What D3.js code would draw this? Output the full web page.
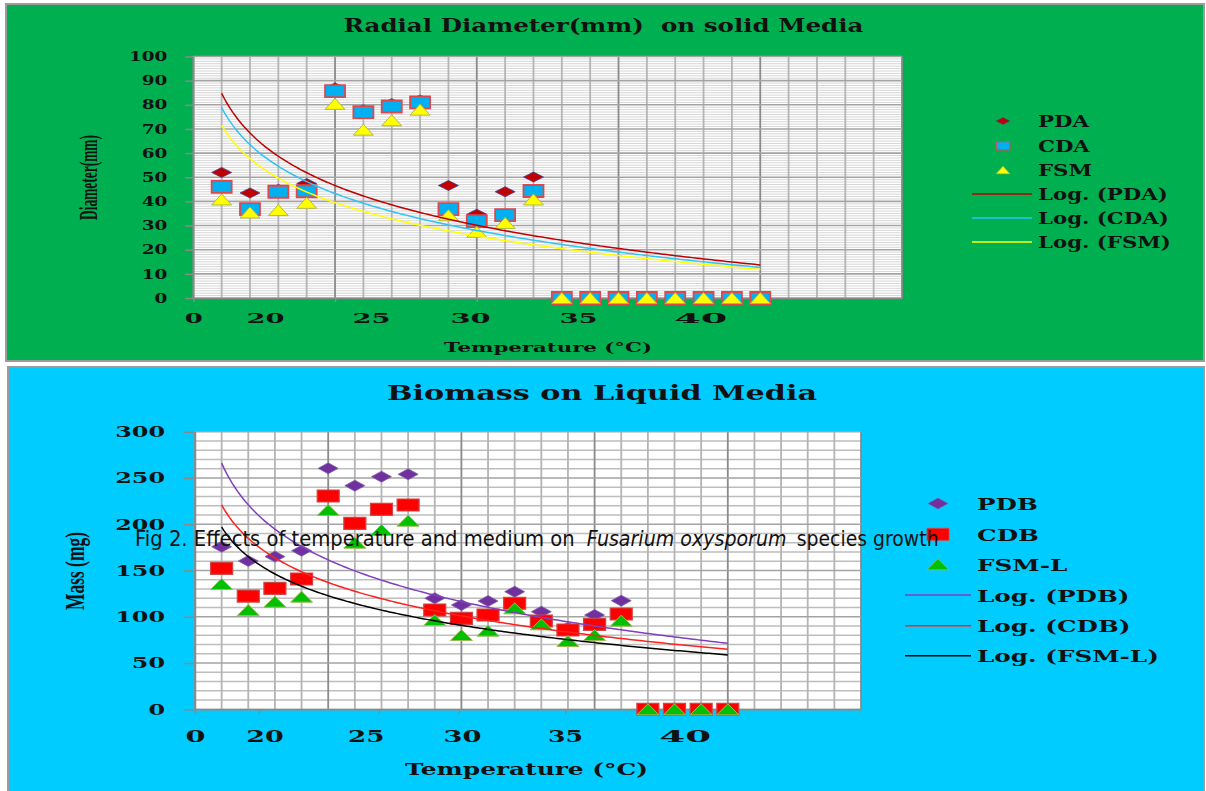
<!DOCTYPE html>
<html>
<head>
<meta charset="utf-8">
<script src="https://cdn.jsdelivr.net/npm/d3@7"></script>
<style>
  body { margin: 0; background: #fff; }
  svg { display: block; }
  text { white-space: pre; }
</style>
</head>
<body>
<svg id="fig" width="1206" height="791"></svg>
<script>
// reading index used by the spreadsheet (1..20)
const idx = d3.range(1, 21);

// solid media, radial diameter (mm)
const pda = [52, 43.5, 45, 47.4, 87, 78, 80.5, 82, 46.6, 34.7, 44, 50.1, 0, 0, 0, 0, 0, 0, 0, 0];
const cda = [46, 36.8, 44, 44.2, 85.7, 77, 79.3, 81, 36.8, 31.8, 34.3, 44.3, 0, 0, 0, 0, 0, 0, 0, 0];
const fsm = [40.8, 35.4, 36.4, 39.4, 80.4, 69.7, 73.6, 78, 34.3, 27.4, 31.1, 40.8, 0, 0, 0, 0, 0, 0, 0, 0];

// liquid media, biomass (mg)
const pdb = [175.7, 160.3, 165, 171.4, 260.4, 241.7, 251.4, 254, 120, 112.7, 117, 127.1, 105.5, 88, 101.9, 117.4, 0, 0, 0, 0];
const cdb = [152.4, 122.4, 130.7, 140.8, 230.5, 201, 216.1, 220.8, 107.3, 98.3, 101.9, 114.6, 95.4, 85.7, 91.8, 103, 0, 0, 0, 0];
const fsml = [135.4, 107.3, 116.3, 121.7, 215.4, 180, 193.8, 203.8, 96.5, 80.3, 85, 109.1, 91.8, 73.8, 80.3, 95.8, 0, 0, 0, 0];

// the temperature labels sit at odd places along the index axis
const tempLabels = ['0', '20', '25', '30', '35', '40'];
const topLabelAt = [0, 2.53, 6.27, 9.76, 13.57, 17.88];
const botLabelAt = [0, 2.61, 6.41, 10.02, 13.89, 18.38];
const topTickAt = [0, 5, 10, 15, 20];
const botTickAt = [0, 2.4, 6.9, 9.9, 13.9, 20];

const svg = d3.select('#fig');

// Excel style logarithmic trendline: y = a*ln(x) + b, least squares
function logFit(ys) {
  const xs = idx.map(Math.log);
  const mx = d3.mean(xs), my = d3.mean(ys);
  const a = d3.sum(xs, (v, i) => (v - mx) * (ys[i] - my)) / d3.sum(xs, v => (v - mx) * (v - mx));
  return { a: a, b: my - a * mx };
}

function markerPath(shape, w, h) {
  if (shape === 'diamond') return `M0,${-h/2}L${w/2},0L0,${h/2}L${-w/2},0Z`;
  if (shape === 'triangle') return `M0,${-h/2}L${w/2},${h/2}L${-w/2},${h/2}Z`;
  return `M${-w/2},${-h/2}h${w}v${h}h${-w}Z`;
}

function drawPanel(c) {
  const g = svg.append('g');
  g.append('rect')
    .attr('x', c.box[0]).attr('y', c.box[1]).attr('width', c.box[2]).attr('height', c.box[3])
    .attr('fill', c.bg).attr('stroke', '#9c9c9c').attr('stroke-width', 2);

  const x = d3.scaleLinear().domain([0, 25]).range([c.plot.l, c.plot.r]);
  const y = d3.scaleLinear().domain([0, c.yMax]).range([c.plot.b, c.plot.t]);

  g.append('rect')
    .attr('x', c.plot.l).attr('y', c.plot.t)
    .attr('width', c.plot.r - c.plot.l).attr('height', c.plot.b - c.plot.t)
    .attr('fill', '#fff');

  // minor horizontal lines
  g.append('g').selectAll('line')
    .data(d3.range(0, c.yMax + 0.001, c.minor).filter(v => v % c.major !== 0))
    .join('line')
    .attr('x1', c.plot.l).attr('x2', c.plot.r)
    .attr('y1', d => y(d)).attr('y2', d => y(d))
    .attr('stroke', c.minorColor).attr('stroke-width', c.minorWidth);

  // vertical lines, darker every 5
  g.append('g').selectAll('line')
    .data(d3.range(0, 26))
    .join('line')
    .attr('x1', d => x(d)).attr('x2', d => x(d))
    .attr('y1', c.plot.t).attr('y2', c.plot.b)
    .attr('stroke', d => d % 5 === 0 ? '#8a8a8a' : '#b4b4b4')
    .attr('stroke-width', 1.8);

  // major horizontal lines
  g.append('g').selectAll('line')
    .data(d3.range(0, c.yMax + 0.001, c.major))
    .join('line')
    .attr('x1', c.plot.l).attr('x2', c.plot.r)
    .attr('y1', d => y(d)).attr('y2', d => y(d))
    .attr('stroke', '#a3a3a3').attr('stroke-width', 1.6);

  // y axis
  const ya = g.append('g').attr('transform', `translate(${c.plot.l},0)`)
    .call(d3.axisLeft(y).tickValues(d3.range(0, c.yMax + 0.001, c.major))
      .tickSize(c.yTick).tickSizeOuter(0).tickPadding(c.yPad));
  ya.select('.domain').attr('stroke', '#8a8a8a').attr('stroke-width', 1.5);
  ya.selectAll('.tick line').attr('stroke', '#8a8a8a').attr('stroke-width', 1.5);
  ya.selectAll('.tick text')
    .attr('font-family', 'DejaVu Serif').attr('font-weight', 'bold')
    .attr('font-size', c.yFont).attr('fill', '#111')
    .attr('textLength', d => String(d).length * c.yDigitW)
    .attr('lengthAdjust', 'spacingAndGlyphs');

  // x tick marks
  const xa = g.append('g').attr('transform', `translate(0,${c.plot.b})`)
    .call(d3.axisBottom(x).tickValues(c.xTickAt).tickSize(c.xTick).tickSizeOuter(0).tickFormat(''));
  xa.select('.domain').attr('stroke', '#8a8a8a').attr('stroke-width', 1.5);
  xa.selectAll('.tick line').attr('stroke', '#8a8a8a').attr('stroke-width', 1.5);

  // x labels
  const xl = g.append('g').attr('transform', `translate(0,${c.plot.b})`)
    .call(d3.axisBottom(x).tickValues(c.xLabelAt).tickSize(0)
      .tickFormat((d, i) => tempLabels[i]));
  xl.select('.domain').remove();
  xl.selectAll('.tick text')
    .attr('y', c.xLabelY).attr('dy', 0)
    .attr('font-family', 'DejaVu Serif').attr('font-weight', 'bold')
    .attr('font-size', c.xFont).attr('fill', '#111')
    .attr('textLength', (d, i) => c.xLabelW[i])
    .attr('lengthAdjust', 'spacingAndGlyphs');

  // markers, in series order
  c.series.forEach(s => {
    g.append('g').selectAll('path')
      .data(s.values)
      .join('path')
      .attr('transform', (d, i) => `translate(${x(idx[i])},${y(d)})`)
      .attr('d', markerPath(s.shape, s.w, s.h))
      .attr('fill', s.fill).attr('stroke', s.stroke).attr('stroke-width', s.sw);
  });

  // trendlines
  const xs = d3.range(1, 20.0001, 0.1);
  c.series.forEach(s => {
    const f = logFit(s.values);
    g.append('path')
      .datum(xs)
      .attr('d', d3.line().x(d => x(d)).y(d => y(f.a * Math.log(d) + f.b)))
      .attr('fill', 'none').attr('stroke', s.line).attr('stroke-width', 1.5);
  });

  // legend
  const L = c.legend;
  const lg = g.append('g');
  const items = c.series.map(s => ({ kind: 'marker', s: s, label: s.name }))
    .concat(c.series.map(s => ({ kind: 'line', s: s, label: 'Log. (' + s.name + ')' })));
  const texts = [];
  items.forEach((it, i) => {
    const cy = L.rows[i];
    if (it.kind === 'marker') {
      lg.append('path')
        .attr('transform', `translate(${L.mx},${cy})`)
        .attr('d', markerPath(it.s.shape, it.s.w * L.ms, it.s.h * L.ms))
        .attr('fill', it.s.fill).attr('stroke', it.s.stroke).attr('stroke-width', it.s.sw * 0.7);
    } else {
      lg.append('line')
        .attr('x1', L.lx0).attr('x2', L.lx1).attr('y1', cy).attr('y2', cy)
        .attr('stroke', it.s.line).attr('stroke-width', 1.5);
    }
    const t = lg.append('g').attr('transform', `translate(${L.tx},${cy + L.base})`)
      .append('text')
      .attr('font-family', 'DejaVu Serif').attr('font-weight', 'bold')
      .attr('font-size', L.font).attr('fill', '#111')
      .text(it.label);
    texts.push(t);
  });
  // stretch legend text so the longest entry has the reference width
  const natural = d3.max(texts, t => t.node().getComputedTextLength());
  const sx = L.longW / natural;
  texts.forEach(t => t.attr('transform', `scale(${sx},1)`));

  // titles
  g.append('text')
    .attr('x', c.title.x).attr('y', c.title.y).attr('text-anchor', 'middle')
    .attr('font-family', 'DejaVu Serif').attr('font-weight', 'bold')
    .attr('font-size', c.title.size).attr('fill', '#111')
    .attr('textLength', c.title.w).attr('lengthAdjust', 'spacingAndGlyphs')
    .text(c.title.text);
  g.append('text')
    .attr('x', c.xTitle.x).attr('y', c.xTitle.y).attr('text-anchor', 'middle')
    .attr('font-family', 'DejaVu Serif').attr('font-weight', 'bold')
    .attr('font-size', c.xTitle.size).attr('fill', '#111')
    .attr('textLength', c.xTitle.w).attr('lengthAdjust', 'spacingAndGlyphs')
    .text(c.xTitle.text);
  g.append('text')
    .attr('transform', `translate(${c.yTitle.x},${c.yTitle.y}) rotate(-90)`)
    .attr('text-anchor', 'middle')
    .attr('font-family', 'Liberation Serif').attr('font-weight', 'bold')
    .attr('font-size', c.yTitle.size).attr('fill', '#111')
    .attr('textLength', c.yTitle.w).attr('lengthAdjust', 'spacingAndGlyphs')
    .text(c.yTitle.text);
}

drawPanel({
  box: [6, 4, 1198, 357],
  bg: '#00B050',
  plot: { l: 193.3, r: 902, t: 56.5, b: 298 },
  yMax: 100, minor: 1, major: 10,
  minorColor: '#d6d6d6', minorWidth: 1,
  yTick: 8, yPad: 18, yFont: 13, yDigitW: 12.8,
  xTickAt: topTickAt, xTick: 4,
  xLabelAt: topLabelAt, xLabelY: 25, xFont: 13, xLabelW: [18, 38, 38, 40, 38, 53],
  series: [
    { name: 'PDA', values: pda, shape: 'diamond', w: 20, h: 10, fill: '#C00000', stroke: '#4a3f8f', sw: 0.8, line: '#C00000' },
    { name: 'CDA', values: cda, shape: 'square', w: 20, h: 12, fill: '#00B0F0', stroke: '#E0474C', sw: 1.8, line: '#2EC4F4' },
    { name: 'FSM', values: fsm, shape: 'triangle', w: 20, h: 11, fill: '#FFFF00', stroke: '#B3B845', sw: 1, line: '#FFFF00' }
  ],
  legend: { mx: 1003, tx: 1038, lx0: 972, lx1: 1032, rows: [121, 145.7, 170, 194, 218, 242], base: 6.3, font: 16, longW: 133, ms: 0.68 },
  title: { text: 'Radial Diameter(mm)  on solid Media', x: 603.5, y: 31.5, size: 18, w: 520 },
  xTitle: { text: 'Temperature (°C)', x: 548, y: 351.7, size: 13, w: 208 },
  yTitle: { text: 'Diameter(mm)', x: 96.5, y: 177.5, size: 25, w: 85 }
});

drawPanel({
  box: [8, 367, 1196, 426],
  bg: '#00CCFF',
  plot: { l: 195, r: 861, t: 431.7, b: 709.3 },
  yMax: 300, minor: 10, major: 50,
  minorColor: '#bdbdbd', minorWidth: 1.5,
  yTick: 11, yPad: 19, yFont: 15, yDigitW: 16.6,
  xTickAt: botTickAt, xTick: 5,
  xLabelAt: botLabelAt, xLabelY: 32.4, xFont: 17, xLabelW: [20, 37.5, 36.4, 38, 35, 51.8],
  series: [
    { name: 'PDB', values: pdb, shape: 'diamond', w: 20, h: 11, fill: '#7030A0', stroke: '#8064A2', sw: 0.8, line: '#7F3FBF' },
    { name: 'CDB', values: cdb, shape: 'square', w: 22, h: 12, fill: '#FF0000', stroke: '#D04545', sw: 1.2, line: '#FF2020' },
    { name: 'FSM-L', values: fsml, shape: 'triangle', w: 22, h: 11, fill: '#00C000', stroke: '#9BBB59', sw: 1, line: '#000000' }
  ],
  legend: { mx: 938, tx: 977, lx0: 905, lx1: 971, rows: [503.5, 534.3, 564.3, 595, 625.7, 655.7], base: 6.5, font: 17, longW: 182, ms: 1 },
  title: { text: 'Biomass on Liquid Media', x: 602, y: 400, size: 20.5, w: 430 },
  xTitle: { text: 'Temperature (°C)', x: 526.5, y: 775, size: 17, w: 243 },
  yTitle: { text: 'Mass (mg)', x: 84, y: 571, size: 28, w: 78 }
});

// figure caption that overlays the lower chart, in three runs (roman / italic / roman)
const caption = [
  { text: 'Fig 2. Effects of temperature and medium on', x: 135, w: 440, italic: false },
  { text: 'Fusarium oxysporum', x: 586.7, w: 200, italic: true },
  { text: 'species growth', x: 796.7, w: 142, italic: false }
];
const capRuns = svg.append('g').selectAll('g')
  .data(caption)
  .join('g')
  .attr('transform', d => `translate(${d.x},546)`);
capRuns.append('text')
  .attr('font-family', 'DejaVu Sans').attr('font-size', 21.5).attr('fill', '#111')
  .attr('font-style', d => d.italic ? 'italic' : 'normal')
  .text(d => d.text)
  .attr('transform', function(d) { return `scale(${d.w / this.getComputedTextLength()},1)`; });
</script>
</body>
</html>
